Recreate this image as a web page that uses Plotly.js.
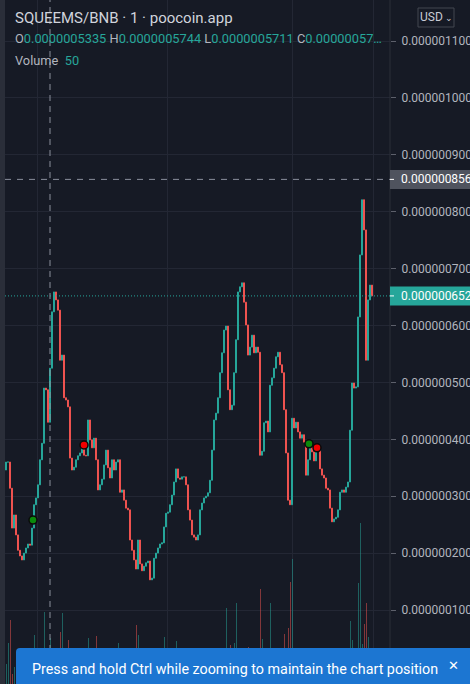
<!DOCTYPE html>
<html>
<head>
<meta charset="utf-8">
<script src="https://cdn.plot.ly/plotly-3.0.1.min.js"></script>
<style>
html,body{margin:0;padding:0;background:#161a25;overflow:hidden;}
#chart{width:470px;height:684px;}
</style>
</head>
<body>
<div id="chart"></div>
<script>
// ---- data (prices in units of 1e-7 BNB) ----
const PRICE_UNIT = 1e-7;
const firstOpen = 3.46;
const closes = [
 3.60, 3.60, 3.14, 2.44, 2.67, 2.32, 2.05, 1.95, 1.88, 2.00,
 2.09, 2.16, 2.14, 2.44, 2.85, 2.97, 3.20, 3.64, 3.93, 4.90,
 4.87, 4.30, 5.25, 6.24, 6.59, 6.45, 6.27, 5.39, 5.48, 4.73,
 4.69, 4.57, 3.67, 3.46, 3.51, 3.64, 3.71, 3.76, 3.85, 3.72,
 3.71, 4.34, 3.99, 3.85, 4.02, 3.64, 3.11, 3.20, 3.30, 3.55,
 3.81, 3.50, 3.32, 3.64, 3.46, 3.60, 3.64, 3.07, 3.11, 2.93,
 2.79, 2.76, 2.23, 2.05, 1.88, 1.72, 2.23, 1.81, 1.69, 1.77,
 1.83, 1.86, 1.53, 1.56, 1.91, 2.00, 2.09, 2.16, 2.18, 2.46,
 2.70, 2.72, 2.85, 3.02, 3.25, 3.48, 3.32, 3.30, 3.34, 3.34,
 3.20, 2.76, 2.58, 2.32, 2.28, 2.23, 2.32, 2.76, 2.88, 2.97,
 3.00, 3.06, 3.28, 3.81, 4.34, 4.46, 4.73, 5.17, 5.52, 5.92,
 5.99, 4.87, 4.52, 4.60, 5.17, 5.75, 6.59, 6.68, 6.75, 6.41,
 6.01, 5.48, 5.62, 5.83, 5.52, 5.62, 5.53, 3.72, 3.79, 4.29,
 4.32, 4.13, 4.95, 5.08, 5.25, 5.45, 5.53, 5.31, 5.17, 4.52,
 3.76, 2.93, 2.85, 4.37, 4.20, 4.30, 4.13, 4.02, 4.08, 3.95,
 3.37, 3.64, 3.86, 3.78, 3.62, 3.79, 3.81, 3.48, 3.37, 3.32,
 3.14, 3.11, 2.79, 2.55, 2.60, 2.63, 2.76, 3.07, 3.11, 3.07,
 3.16, 3.25, 4.16, 4.99, 4.90, 4.92, 6.15, 7.24, 8.21, 7.68,
 5.39, 6.45, 6.71, 6.52
];
const volumes = [
 20,41,64,10,17,12,8,14,22,9, 15,6,18,25,49,12,20,30,16,72,
 22,14,46,28,18,10,24,52,71,15, 20,44,18,12,9,16,11,20,14,26,
 18,46,12,20,15,48,10,13,8,20, 11,6,14,9,18,12,41,10,15,8,
 22,12,9,16,20,59,49,14,10,18, 9,12,7,15,11,20,13,9,18,47,
 12,16,10,21,14,43,12,8,15,10, 19,13,7,11,16,9,14,20,12,8,
 17,11,23,14,9,18,12,25,16,20, 76,22,39,18,41,81,24,15,20,28,
 17,37,14,19,12,22,30,95,45,18, 26,20,81,24,16,12,20,15,27,50,
 30,56,102,125,34,22,18,28,15,20, 12,26,18,22,14,30,19,11,16,21,
 13,9,17,12,20,15,10,18,14,25, 30,22,63,44,28,35,101,161,40,60,
 81,47,30,22
];
const priceTicks = [1,2,3,4,5,6,7,8,9,10,11];
const gridTimes = [15.5, 80.5, 143, 183.5];
const crossIndex = 22;
const crossPrice = 8.568;
const lastPrice = 6.52;
const buyX = [13.5, 151.5], buyY = [2.58, 3.92];
const sellX = [39, 155.5], sellY = [3.90, 3.85];
const titleText = 'SQUEEMS/BNB · 1 · poocoin.app';
const ohlcLabels = ['O','H','L','C'];
const ohlcValues = ['0.0000005335','0.0000005744','0.0000005711','0.00000057…'];
const volumeLabel = 'Volume', volumeValue = '50';
const toastText = 'Press and hold Ctrl while zooming to maintain the chart position';

// ---- build ----
const UP = '#26a69a', DOWN = '#ef5350';
const idx = closes.map((_, i) => i);
const opens = closes.map((c, i) => i === 0 ? firstOpen : closes[i - 1]);
const o = opens.map(v => v * PRICE_UNIT);
const c = closes.map(v => v * PRICE_UNIT);
const h = o.map((v, i) => Math.max(v, c[i]));
const l = o.map((v, i) => Math.min(v, c[i]));
const volColors = closes.map((v, i) => v >= opens[i] ? 'rgba(38,166,154,0.5)' : 'rgba(239,83,80,0.5)');

const W = 470, H = 684, ML = 5, MR = 80;
const PW = W - ML - MR;
const yr = [-0.3005 * PRICE_UNIT, 11.7206 * PRICE_UNIT];
const xr = [-0.5, 192];
const px = p => (p - ML) / PW;            // pixel x -> paper
const py = p => 1 - p / H;                // pixel y -> paper
const vy = v => (v * PRICE_UNIT - yr[0]) / (yr[1] - yr[0]); // price -> paper

const FONT = 'Roboto, "Open Sans", sans-serif';

const traces = [
  {
    type: 'bar', x: idx, y: volumes, yaxis: 'y2',
    width: 0.5, marker: {color: volColors, line: {width: 0}},
    hoverinfo: 'skip', showlegend: false
  },
  {
    type: 'candlestick', x: idx, open: o, high: h, low: l, close: c,
    increasing: {line: {color: UP, width: 1}, fillcolor: UP},
    decreasing: {line: {color: DOWN, width: 1}, fillcolor: DOWN},
    whiskerwidth: 0, showlegend: false, hoverinfo: 'skip'
  },
  {
    type: 'scatter', mode: 'markers', x: buyX, y: buyY.map(v => v * PRICE_UNIT),
    marker: {color: '#0b8a0b', size: 8, line: {color: '#0a0a0a', width: 1.5}},
    showlegend: false, hoverinfo: 'skip'
  },
  {
    type: 'scatter', mode: 'markers', x: sellX, y: sellY.map(v => v * PRICE_UNIT),
    marker: {color: '#f00000', size: 8, line: {color: '#0a0a0a', width: 1.5}},
    showlegend: false, hoverinfo: 'skip'
  }
];

const boxHalf = 9.5 / H;
const shapes = [
  {type: 'rect', xref: 'paper', yref: 'paper', x0: px(0), x1: 0, y0: 0, y1: 1,
   fillcolor: '#2a2e39', line: {width: 0}, layer: 'above'},
  {type: 'line', xref: 'paper', yref: 'paper', x0: 1, x1: 1, y0: 0, y1: 1,
   line: {color: '#2a2e39', width: 1}, layer: 'above'},
  {type: 'line', xref: 'x', yref: 'y', x0: crossIndex, x1: crossIndex, y0: yr[0], y1: yr[1],
   line: {color: '#8a8f9c', width: 1, dash: '6px,5px'}, layer: 'above'},
  {type: 'line', xref: 'x', yref: 'y', x0: xr[0], x1: xr[1], y0: crossPrice * PRICE_UNIT, y1: crossPrice * PRICE_UNIT,
   line: {color: '#8a8f9c', width: 1, dash: '6px,6px'}, layer: 'above'},
  {type: 'line', xref: 'x', yref: 'y', x0: xr[0], x1: xr[1], y0: lastPrice * PRICE_UNIT, y1: lastPrice * PRICE_UNIT,
   line: {color: UP, width: 1, dash: '1px,2px'}, layer: 'above'},
  {type: 'rect', xref: 'paper', yref: 'paper', x0: 1, x1: px(W + 2),
   y0: vy(crossPrice) - boxHalf, y1: vy(crossPrice) + boxHalf, fillcolor: '#4f535e', line: {width: 0}, layer: 'above'},
  {type: 'rect', xref: 'paper', yref: 'paper', x0: 1, x1: px(W + 2),
   y0: vy(lastPrice) - boxHalf, y1: vy(lastPrice) + boxHalf, fillcolor: UP, line: {width: 0}, layer: 'above'},
  {type: 'line', xref: 'paper', yref: 'paper', x0: 1, x1: px(394), y0: vy(crossPrice), y1: vy(crossPrice),
   line: {color: '#ffffff', width: 1}, layer: 'above'},
  {type: 'line', xref: 'paper', yref: 'paper', x0: 1, x1: px(394), y0: vy(lastPrice), y1: vy(lastPrice),
   line: {color: '#ffffff', width: 1}, layer: 'above'},
  {type: 'rect', xref: 'paper', yref: 'paper', x0: px(418), x1: px(454), y0: py(27), y1: py(8),
   fillcolor: 'rgba(0,0,0,0)', line: {color: '#434651', width: 1}, layer: 'above'},
  {type: 'path', xref: 'paper', yref: 'paper', layer: 'above',
   path: 'M ' + px(16) + ',' + py(H + 4) + ' L ' + px(16) + ',' + py(652) +
         ' Q ' + px(16) + ',' + py(648) + ' ' + px(20) + ',' + py(648) +
         ' L ' + px(W + 4) + ',' + py(648) + ' L ' + px(W + 4) + ',' + py(H + 4) + ' Z',
   fillcolor: '#1c76d2', line: {width: 0}}
];

const annotations = [
  {xref: 'paper', yref: 'paper', x: px(13), y: py(18), xanchor: 'left', yanchor: 'middle', showarrow: false,
   text: titleText, font: {family: FONT, size: 15, color: '#d1d4dc'}},
  {xref: 'paper', yref: 'paper', x: px(13), y: py(38), xanchor: 'left', yanchor: 'middle', showarrow: false,
   text: ohlcLabels.map((k, i) => k + '<span style="color:' + UP + '">' + ohlcValues[i] + '</span>').join(' '),
   font: {family: FONT, size: 12.8, color: '#b2b5be'}},
  {xref: 'paper', yref: 'paper', x: px(13), y: py(61), xanchor: 'left', yanchor: 'middle', showarrow: false,
   text: volumeLabel + '  <span style="color:' + UP + '">' + volumeValue + '</span>',
   font: {family: FONT, size: 12.8, color: '#b2b5be'}},
  {xref: 'paper', yref: 'paper', x: px(436), y: py(17.5), xanchor: 'center', yanchor: 'middle', showarrow: false,
   text: 'USD<span style="font-size:9px"> ⌄</span>', font: {family: FONT, size: 12, color: '#c8cbd4'}},
  {xref: 'paper', yref: 'paper', x: px(399), y: vy(crossPrice), xanchor: 'left', yanchor: 'middle', showarrow: false,
   text: (crossPrice * PRICE_UNIT).toFixed(10), font: {family: FONT, size: 12, color: '#ffffff'}},
  {xref: 'paper', yref: 'paper', x: px(399), y: vy(lastPrice), xanchor: 'left', yanchor: 'middle', showarrow: false,
   text: (lastPrice * PRICE_UNIT).toFixed(10), font: {family: FONT, size: 12, color: '#ffffff'}},
  {xref: 'paper', yref: 'paper', x: px(234.5), y: py(669), xanchor: 'center', yanchor: 'middle', showarrow: false,
   text: toastText, font: {family: FONT, size: 14.3, color: '#ffffff'}},
  {xref: 'paper', yref: 'paper', x: px(453), y: py(665), xanchor: 'center', yanchor: 'middle', showarrow: false,
   text: '✕', font: {family: 'DejaVu Sans', size: 13, color: '#ffffff'}}
];

const layout = {
  width: W, height: H,
  margin: {l: ML, r: MR, t: 0, b: 0, pad: 0},
  paper_bgcolor: '#161a25', plot_bgcolor: '#161a25',
  showlegend: false,
  xaxis: {
    range: xr, rangeslider: {visible: false}, showticklabels: false, ticks: '',
    tickmode: 'array', tickvals: gridTimes, showgrid: true, gridcolor: '#232734', gridwidth: 1,
    zeroline: false, showline: false, fixedrange: true
  },
  yaxis: {
    range: yr, side: 'right', tickmode: 'array',
    tickvals: priceTicks.map(v => v * PRICE_UNIT),
    ticktext: priceTicks.map(v => (v * PRICE_UNIT).toFixed(10)),
    showgrid: true, gridcolor: '#232734', gridwidth: 1,
    ticks: 'outside', ticklen: 5, tickcolor: '#5d606b', ticklabelstandoff: 3,
    tickfont: {family: FONT, size: 12, color: '#b2b5be'},
    zeroline: false, showline: false, automargin: false, fixedrange: true
  },
  yaxis2: {range: [0, H], overlaying: 'y', visible: false, fixedrange: true},
  shapes: shapes,
  annotations: annotations,
  bargap: 0
};

Plotly.newPlot('chart', traces, layout, {staticPlot: true, displayModeBar: false});
</script>
</body>
</html>
